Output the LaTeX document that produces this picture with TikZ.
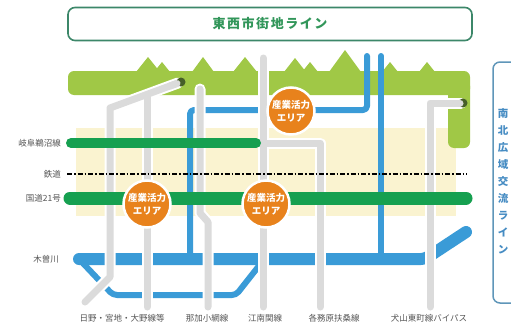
\documentclass[tikz,border=0pt]{standalone}
\usepackage{fontspec}
\setmainfont{Noto Sans CJK JP}
\definecolor{bandgreen}{RGB}{160,200,70}
\definecolor{tunnel}{RGB}{70,95,40}
\definecolor{zoneyellow}{RGB}{250,243,208}
\definecolor{riverblue}{RGB}{58,155,215}
\definecolor{roadgreen}{RGB}{22,160,80}
\definecolor{areaorange}{RGB}{232,130,28}
\definecolor{titlegreen}{RGB}{60,135,105}
\definecolor{titletext}{RGB}{50,150,90}
\definecolor{labelgray}{RGB}{85,85,85}
\definecolor{boxblue}{RGB}{95,150,185}
\definecolor{boxtext}{RGB}{70,140,195}
\begin{document}
\begin{tikzpicture}[x=1pt, y=-1pt,
    casing/.style={white, line width=11, line cap=round, line join=round},
    road/.style={black!14, line width=7, line cap=round, line join=round},
    river/.style={riverblue, line width=6, line cap=round, line join=round, rounded corners=4},
    mainroad/.style={roadgreen, line cap=round},
    railway/.style={black, line width=2, dash pattern=on 5pt off 2pt on 1.5pt off 2pt},
    areacircle/.style={circle, fill=areaorange, draw=white, line width=2.5, minimum size=47, inner sep=0,
        text=white, align=center, font=\bfseries\fontsize{9.5}{12.5}\selectfont},
    roadname/.style={text=labelgray, font=\fontsize{8.5}{10}\selectfont, inner sep=1}]
    \useasboundingbox (0,0) rectangle (511,324);
    \clip (0,0) rectangle (511,324);
    \fill[white] (0,0) rectangle (511,324);

    % title
    \node[draw=titlegreen, line width=1.6, rounded corners=7, fill=white, minimum width=404, minimum height=33,
        text=titletext, font=\bfseries\fontsize{13}{15}\selectfont\addfontfeature{LetterSpace=12}] (title) at (270,24) {東西市街地ライン};

    % hills and the built-up zone
    \fill[zoneyellow] (76,128) rectangle (456,216);
    \fill[bandgreen, rounded corners=6] (68,71) rectangle (470,95);
    \fill[bandgreen, rounded corners=6] (448,80) rectangle (470,148);
    \foreach \x/\y/\w in {148/57/12, 162/62/8, 203/57/11, 245/57/12, 295/58/11, 310/62/8, 345/50/16, 390/62/8, 427/62/8}
        \fill[bandgreen] (\x-\w,72) -- (\x,\y) -- (\x+\w,72) -- cycle;

    % blue lines and the river
    \draw[river] (367,56) -- (367,110) -- (190,110) -- (190,256);
    \draw[river] (381,56) -- (381,256);
    \draw[river, line width=12] (79,259) -- (425,259) -- (466,232);
    \draw[river] (79,259) -- (113,295) -- (236,295) -- (262,262);

    % north-south roads
    \foreach \s in {casing, road} {
        \draw[\s] (178,83) -- (110,108) -- (110,277) -- (85,302);
        \draw[\s] (147,95) -- (147,307);
        \draw[\s] (200,89) -- (200,213) -- (208,222) -- (208,307);
        \draw[\s] (263,58) -- (263,307);
        \draw[\s] (263,143) -- (320,143) -- (320,307);
        \draw[\s] (461,103) -- (430,103) -- (430,307);
    }
    \fill[tunnel] (181,82) circle (4.5);
    \fill[tunnel] (463,103) circle (4.5);
    \draw[road] (170,86) -- (177,83.5);
    \draw[road] (452,103) -- (460,103);

    % east-west roads and railway
    \draw[mainroad, line width=10] (71,143) -- (256,143);
    \draw[mainroad, line width=13] (70,198) -- (466,198);
    \draw[railway] (67,174) -- (467,174);

    \node[areacircle] (area1) at (291,111) {産業活力\\エリア};
    \node[areacircle] (area2) at (147,204) {産業活力\\エリア};
    \node[areacircle] (area3) at (266,204) {産業活力\\エリア};

    % names
    \node[roadname, anchor=east] (gifu) at (62,143) {岐阜鵜沼線};
    \node[roadname, anchor=east] (rail) at (62,174) {鉄道};
    \node[roadname, anchor=east] (r21) at (62,198) {国道21号};
    \node[roadname, anchor=east] (kiso) at (60,259) {木曽川};
    \node[roadname] (hino) at (122,318) {日野・宮地・大野線等};
    \node[roadname] (naka) at (207,318) {那加小網線};
    \node[roadname] (konan) at (265,318) {江南関線};
    \node[roadname] (fuso) at (334,318) {各務原扶桑線};
    \node[roadname] (inuyama) at (429,318) {犬山東町線バイパス};

    % side panel
    \draw[boxblue, line width=1.5, rounded corners=7] (493,62) rectangle (530,303);
    \node[text=boxtext, font=\bfseries\fontsize{10.5}{17}\selectfont, align=center, inner sep=0] (northsouth) at (503,181) {南\\北\\広\\域\\交\\流\\ラ\\イ\\ン};
\end{tikzpicture}
\end{document}
